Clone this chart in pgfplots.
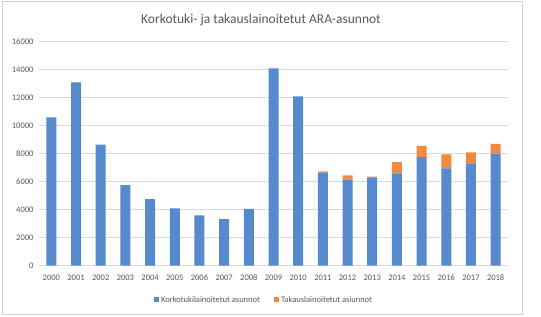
\documentclass[border=0pt]{standalone}
\usepackage{pgfplots}
\pgfplotsset{compat=1.18}
\usepackage{fontspec}
\setmainfont{Carlito}
\definecolor{barblue}{RGB}{86,138,204}
\definecolor{barorange}{RGB}{239,139,64}
\definecolor{txtgray}{RGB}{89,89,89}
\definecolor{gridgray}{RGB}{217,217,217}
\begin{document}
\begin{tikzpicture}
\useasboundingbox (0,0) rectangle (541bp,317bp);
\fill[white] (0,0) rectangle (541bp,317bp);
\draw[gray!35, line width=0.8bp] (2bp,3bp) rectangle (522bp,316bp);
\node[text=txtgray, font=\fontsize{13.5bp}{16bp}\selectfont] at (261bp,297bp) {Korkotuki- ja takauslainoitetut ARA-asunnot};
\begin{axis}[
  at={(39bp,51.3bp)}, anchor=south west,
  scale only axis, width=469bp, height=224bp,
  ybar stacked, bar width=10bp,
  xmin=-0.5, xmax=18.5, ymin=0, ymax=16000,
  xtick={0,...,18},
  xticklabels={2000,2001,2002,2003,2004,2005,2006,2007,2008,2009,2010,2011,2012,2013,2014,2015,2016,2017,2018},
  ytick={0,2000,...,16000},
  ymajorgrids, grid style={gridgray, line width=1bp},
  axis x line*=bottom, axis y line*=left,
  x axis line style={gridgray, line width=1bp, -},
  y axis line style={draw=none},
  major tick length=0pt,
  tick label style={text=txtgray, font=\fontsize{8.5bp}{10bp}\selectfont},
  /pgf/number format/assume math mode=true,
  scaled y ticks=false,
  yticklabel style={/pgf/number format/1000 sep={}, xshift=-2bp},
  xticklabel style={anchor=base, yshift=-15bp, text height=6bp, text depth=0bp},
  legend style={at={(0.48,-0.153)}, anchor=center, draw=none, fill=none,
    legend columns=2, font=\fontsize{8.5bp}{10bp}\selectfont, text=txtgray,
    /tikz/every even column/.append style={column sep=12bp}},
  legend image code/.code={\fill (0bp,-2.5bp) rectangle (5bp,2.5bp);},
]
\addplot[fill=barblue, draw=none] coordinates {
(0,10600) (1,13100) (2,8650) (3,5750) (4,4750) (5,4100) (6,3600) (7,3330) (8,4050)
(9,14100) (10,12100) (11,6650) (12,6150) (13,6250) (14,6600) (15,7750) (16,6950) (17,7250) (18,8000)};
\addplot[fill=barorange, draw=none] coordinates {
(0,0) (1,0) (2,0) (3,0) (4,0) (5,0) (6,0) (7,0) (8,0)
(9,0) (10,0) (11,80) (12,300) (13,120) (14,800) (15,800) (16,1000) (17,850) (18,700)};
\legend{Korkotukilainoitetut asunnot, Takauslainoitetut asiunnot}
\end{axis}
\end{tikzpicture}
\end{document}
